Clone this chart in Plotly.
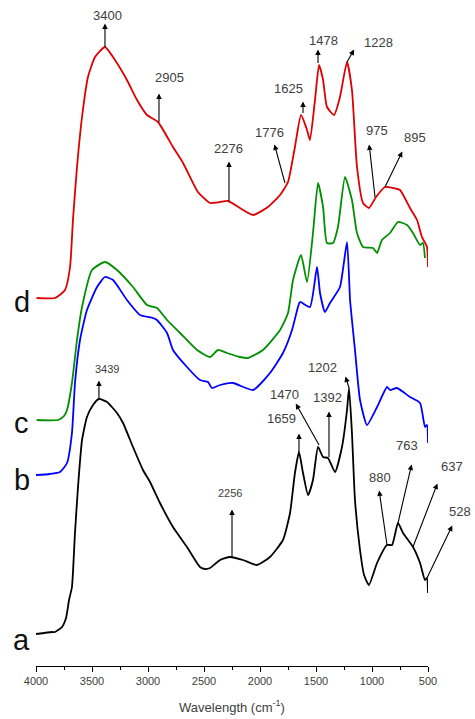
import plotly.graph_objects as go

# ---- data (wavenumber cm-1, offset intensity) ----
wn_a = [4000, 3857, 3830, 3768, 3732, 3705, 3679, 3652, 3625, 3589, 3545, 3491, 3438, 3366, 3277, 3223, 3134, 3045, 2982, 2893, 2777, 2652, 2536, 2491, 2446, 2357, 2268, 2152, 2027, 1911, 1795, 1732, 1688, 1652, 1616, 1571, 1527, 1482, 1437, 1393, 1330, 1268, 1223, 1205, 1179, 1152, 1107, 1071, 1027, 955, 866, 821, 768, 723, 634, 571, 527, 509, 500]
a_val = [0.32, 0.34, 0.34, 0.39, 0.48, 0.66, 0.79, 1.33, 1.79, 2.26, 2.49, 2.61, 2.67, 2.64, 2.53, 2.43, 2.19, 1.96, 1.84, 1.63, 1.39, 1.19, 0.99, 0.97, 0.98, 1.06, 1.09, 1.06, 1.01, 1.09, 1.26, 1.53, 1.93, 2.14, 1.93, 1.71, 1.86, 2.19, 2.09, 2.08, 1.94, 2.19, 2.56, 2.78, 2.33, 1.66, 1.16, 0.91, 0.81, 1.03, 1.21, 1.21, 1.43, 1.33, 1.19, 1.03, 0.86, 0.88, 0.73]

wn_b = [4000, 3875, 3786, 3723, 3679, 3652, 3607, 3545, 3455, 3384, 3312, 3188, 3071, 2955, 2920, 2830, 2777, 2652, 2536, 2464, 2429, 2357, 2241, 2062, 1911, 1795, 1714, 1661, 1643, 1554, 1491, 1464, 1420, 1375, 1286, 1223, 1196, 1179, 1152, 1107, 1045, 955, 866, 839, 777, 661, 571, 527, 509, 500]
b_val = [1.91, 1.92, 1.94, 2.03, 2.33, 2.83, 3.26, 3.56, 3.79, 3.89, 3.86, 3.66, 3.51, 3.48, 3.46, 3.33, 3.16, 2.99, 2.86, 2.84, 2.78, 2.81, 2.83, 2.76, 2.93, 3.13, 3.36, 3.59, 3.64, 3.59, 3.99, 3.73, 3.54, 3.63, 3.79, 4.24, 3.66, 3.46, 3.16, 2.66, 2.41, 2.59, 2.79, 2.76, 2.78, 2.69, 2.63, 2.39, 2.41, 2.23]

wn_c = [3995, 3804, 3750, 3723, 3679, 3634, 3589, 3500, 3384, 3277, 3134, 3009, 2920, 2830, 2714, 2562, 2446, 2375, 2295, 2179, 2107, 1973, 1821, 1750, 1705, 1634, 1580, 1527, 1482, 1437, 1402, 1348, 1304, 1241, 1179, 1134, 1080, 991, 955, 911, 839, 768, 687, 634, 571, 545, 527]
c_val = [2.46, 2.46, 2.50, 2.56, 2.83, 3.26, 3.59, 3.96, 4.04, 3.96, 3.79, 3.61, 3.58, 3.46, 3.33, 3.16, 3.09, 3.16, 3.13, 3.09, 3.08, 3.16, 3.36, 3.53, 3.86, 4.11, 3.84, 4.33, 4.83, 4.59, 4.23, 4.23, 4.39, 4.89, 4.66, 4.33, 4.19, 4.18, 4.13, 4.26, 4.33, 4.44, 4.41, 4.33, 4.21, 4.23, 4.08]

wn_d = [3995, 3830, 3741, 3696, 3670, 3634, 3589, 3536, 3473, 3384, 3295, 3188, 3098, 3009, 2911, 2777, 2687, 2554, 2446, 2357, 2286, 2179, 2062, 1929, 1821, 1750, 1688, 1634, 1580, 1554, 1509, 1473, 1437, 1402, 1339, 1286, 1223, 1179, 1134, 1080, 1027, 964, 884, 812, 750, 661, 598, 554, 509, 500]
d_val = [3.68, 3.68, 3.76, 3.99, 4.46, 4.99, 5.49, 5.89, 6.09, 6.19, 6.06, 5.86, 5.66, 5.51, 5.44, 5.19, 5.03, 4.74, 4.63, 4.64, 4.65, 4.58, 4.51, 4.59, 4.71, 4.84, 5.19, 5.51, 5.36, 5.26, 5.66, 6.01, 5.86, 5.59, 5.51, 5.69, 6.04, 5.76, 4.99, 4.63, 4.58, 4.69, 4.79, 4.78, 4.76, 4.58, 4.46, 4.29, 4.19, 3.99]

series_names = ["a", "b", "c", "d"]
tick_vals = [4000, 3500, 3000, 2500, 2000, 1500, 1000, 500]

# peak labels: (label, text x, text y, curve x, curve y, head x, head y, font size)
peaks = [
    ("3400", 3366, 6.51, 3384, 6.19, 3384, 6.44, 13),
    ("2905", 2812, 5.89, 2902, 5.44, 2902, 5.74, 13),
    ("2276", 2277, 5.18, 2277, 4.65, 2277, 5.06, 13),
    ("1776", 1911, 5.34, 1777, 4.83, 1875, 5.23, 13),
    ("1625", 1750, 5.78, 1616, 5.53, 1616, 5.66, 13),
    ("1478", 1437, 6.26, 1482, 6.03, 1482, 6.18, 13),
    ("1228", 946, 6.24, 1223, 6.04, 1152, 6.18, 13),
    ("975", 955, 5.36, 973, 4.69, 1027, 5.23, 13),
    ("895", 616, 5.29, 884, 4.79, 723, 5.16, 13),
    ("3439", 3366, 2.97, 3438, 2.67, 3438, 2.87, 11),
    ("2256", 2268, 1.73, 2250, 1.09, 2250, 1.58, 11),
    ("1202", 1446, 2.99, 1205, 2.78, 1241, 2.91, 13),
    ("1470", 1777, 2.72, 1473, 2.21, 1688, 2.64, 13),
    ("1392", 1393, 2.69, 1384, 2.09, 1384, 2.56, 13),
    ("1659", 1804, 2.48, 1652, 2.14, 1652, 2.34, 13),
    ("880", 929, 1.89, 866, 1.21, 938, 1.77, 13),
    ("763", 687, 2.21, 768, 1.43, 643, 2.03, 13),
    ("637", 286, 2.00, 634, 1.19, 411, 1.84, 13),
    ("528", 214, 1.55, 509, 0.88, 277, 1.42, 13),
]

fig = go.Figure()
colors = ["#000000", "#0000ff", "#008f00", "#dd0000"]
xs = [wn_a, wn_b, wn_c, wn_d]
ys = [a_val, b_val, c_val, d_val]
for name, x, y, col in zip(series_names, xs, ys, colors):
    fig.add_trace(go.Scatter(x=x, y=y, mode="lines", name=name,
                             line=dict(color=col, width=1.8, shape="spline", smoothing=0.5),
                             showlegend=False))

X0, X1 = 4000, 500
def xpaper(v):
    return (X0 - v) / (X0 - X1)

anns = []
for lab, tx, ty, cx, cy, hx, hy, fs in peaks:
    anns.append(dict(x=cx, y=cy, xref="x", yref="y", ax=hx, ay=hy, axref="x", ayref="y",
                     text="", showarrow=True, arrowside="start", arrowhead=2,
                     startarrowhead=2, arrowsize=1, startarrowsize=1, arrowwidth=1.1,
                     arrowcolor="#000000", standoff=0, startstandoff=0))
    anns.append(dict(x=xpaper(tx), y=ty, xref="paper", yref="y", text=lab, showarrow=False,
                     font=dict(size=fs, color="#404040", family="Liberation Sans, Arial"),
                     xanchor="center", yanchor="middle"))

# series letters
letter_y = {"a": 0.26, "b": 1.86, "c": 2.43, "d": 3.64}
for name in series_names:
    anns.append(dict(x=-0.036, y=letter_y[name], xref="paper", yref="y", text=name,
                     showarrow=False, font=dict(size=29, color="#111111", family="Liberation Sans, Arial"),
                     xanchor="center", yanchor="middle"))

fig.update_layout(
    width=475, height=719,
    margin=dict(l=36, r=47, t=0, b=53),
    paper_bgcolor="white", plot_bgcolor="white",
    annotations=anns,
    xaxis=dict(range=[X0, X1], showgrid=False, zeroline=False, showline=True,
               linecolor="#000000", linewidth=1.2, ticks="outside", ticklen=5,
               tickwidth=1, tickcolor="#000000", tickvals=tick_vals,
               tickfont=dict(size=11, color="#404040", family="Liberation Sans, Arial"),
               minor=dict(ticks="outside", ticklen=3, dtick=250, tickcolor="#000000"),
               title=dict(text="Wavelength (cm<sup>-1</sup>)", standoff=16,
                          font=dict(size=13, color="#404040", family="Liberation Sans, Arial"))),
    yaxis=dict(range=[0, 6.66], visible=False),
)

fig.write_html("out.html")
